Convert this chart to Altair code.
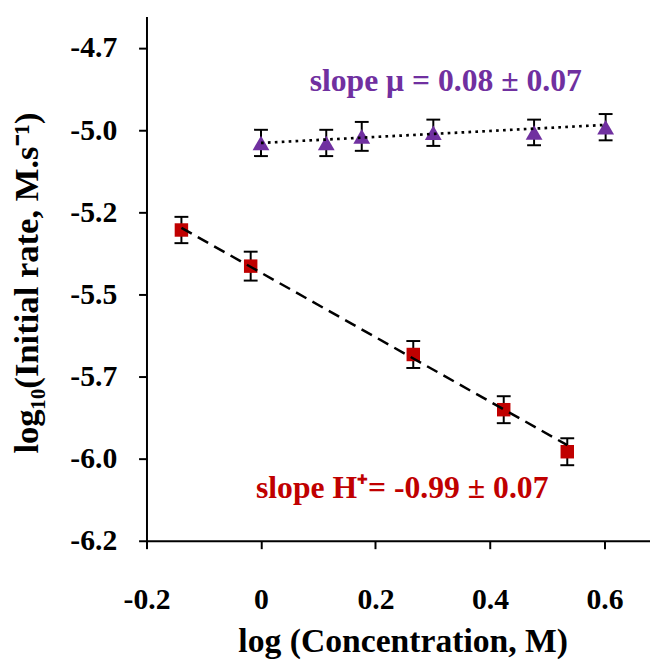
import altair as alt
import pandas as pd

# ---- data ----
mu_x = [0.0, 0.114, 0.176, 0.301, 0.477, 0.602]
mu_y = [-5.039, -5.039, -5.019, -5.008, -5.007, -4.991]
mu_err = [0.040, 0.040, 0.044, 0.040, 0.039, 0.040]

h_x = [-0.139, -0.018, 0.266, 0.424, 0.535]
h_y = [-5.304, -5.414, -5.683, -5.851, -5.979]
h_err = [0.040, 0.044, 0.041, 0.041, 0.041]

fit_mu_x = [0.0, 0.602]
fit_mu_y = [-5.039, -4.984]
fit_h_x = [-0.139, 0.535]
fit_h_y = [-5.2975, -5.959]

label_text = ["slope \u03bc = 0.08 \u00b1 0.07", "slope H\u207a= -0.99 \u00b1 0.07"]
label_x = [0.3227, 0.2467]
label_y = [-4.8807, -6.1204]
label_color = ["#7030A0", "#C00000"]

x_ticks = [-0.2, 0.0, 0.2, 0.4, 0.6]
x_tick_labels = ["-0.2", "0", "0.2", "0.4", "0.6"]
y_ticks = [-4.75, -5.0, -5.25, -5.5, -5.75, -6.0, -6.25]
y_tick_labels = ["-4.7", "-5.0", "-5.2", "-5.5", "-5.7", "-6.0", "-6.2"]

x_title = "log (Concentration, M)"
y_title = "log\u2081\u2080(Initial rate, M.s\u207b\u00b9)"


def label_expr(vals, labels):
    expr = "''"
    for v, l in reversed(list(zip(vals, labels))):
        expr = f"(datum.value == {v}) ? '{l}' : ({expr})"
    return expr


FONT = "Liberation Serif"

xs = alt.Scale(domain=[-0.2, 0.6795], nice=False, zero=False)
ys = alt.Scale(domain=[-6.25, -4.654], nice=False, zero=False)

x_axis = alt.Axis(values=x_ticks, labelExpr=label_expr(x_ticks, x_tick_labels),
                  title=x_title, grid=False, tickSize=8, labelPadding=36,
                  titleX=259, titleY=112, titleBaseline="alphabetic",
                  titleFontSize=34,
                  titleAnchor="middle", titleAlign="center")
y_axis = alt.Axis(values=y_ticks, labelExpr=label_expr(y_ticks, y_tick_labels),
                  title=y_title, grid=False, tickSize=8, labelPadding=22,
                  titleX=-110, titleY=269, titleAngle=270, titleFontSize=35,
                  titleBaseline="alphabetic", titleAlign="center")

X = alt.X("x:Q", scale=xs, axis=x_axis)
Y = alt.Y("y:Q", scale=ys, axis=y_axis)

mu = pd.DataFrame({"x": mu_x, "y": mu_y, "err": mu_err})
mu["lo"] = mu["y"] - mu["err"]
mu["hi"] = mu["y"] + mu["err"]
hh = pd.DataFrame({"x": h_x, "y": h_y, "err": h_err})
hh["lo"] = hh["y"] - hh["err"]
hh["hi"] = hh["y"] + hh["err"]
allpts = pd.concat([mu, hh], ignore_index=True)
caps = pd.concat([
    pd.DataFrame({"x": allpts["x"], "y": allpts["lo"]}),
    pd.DataFrame({"x": allpts["x"], "y": allpts["hi"]}),
], ignore_index=True)

bars = alt.Chart(allpts).mark_rule(color="black", strokeWidth=2).encode(
    x=X, y=alt.Y("lo:Q", scale=ys, axis=y_axis), y2="hi:Q")
cap_marks = alt.Chart(caps).mark_tick(orient="horizontal", size=14, thickness=2,
                                      color="black", opacity=1).encode(x=X, y=Y)

tri = alt.Chart(mu).mark_point(shape="triangle-up", filled=True, size=289,
                               color="#7030A0", opacity=1).encode(x=X, y=Y)
sq = alt.Chart(hh).mark_point(shape="square", filled=True, size=185,
                              color="#C00000", opacity=1).encode(x=X, y=Y)

fit_mu = alt.Chart(pd.DataFrame({"x": fit_mu_x, "y": fit_mu_y})).mark_line(
    color="black", strokeWidth=2.7, strokeDash=[2.7, 4.3]).encode(x=X, y=Y)
fit_h = alt.Chart(pd.DataFrame({"x": fit_h_x, "y": fit_h_y})).mark_line(
    color="black", strokeWidth=2.5, strokeDash=[12, 7]).encode(x=X, y=Y)

labels = alt.Chart(pd.DataFrame({"x": label_x, "y": label_y, "t": label_text,
                                 "c": label_color})).mark_text(
    font=FONT, fontWeight="bold", fontSize=32, align="center",
    baseline="alphabetic").encode(
    x=X, y=Y, text="t:N", color=alt.Color("c:N", scale=None))

chart = alt.layer(bars, cap_marks, tri, sq, fit_mu, fit_h, labels).properties(
    width=509, height=530,
    autosize=alt.AutoSizeParams(type="none"),
    padding={"left": 140, "top": 5, "right": 0, "bottom": 120},
).configure_view(stroke=None).configure_axis(
    domainColor="black", domainWidth=2, tickColor="black", tickWidth=2,
    labelFont=FONT, labelFontWeight="bold", labelFontSize=30, labelColor="black",
    titleFont=FONT, titleFontWeight="bold", titleColor="black",
    labelOverlap=False, labelFlush=False,
)

chart.save("out.html", embed_options={"renderer": "svg", "actions": False})
